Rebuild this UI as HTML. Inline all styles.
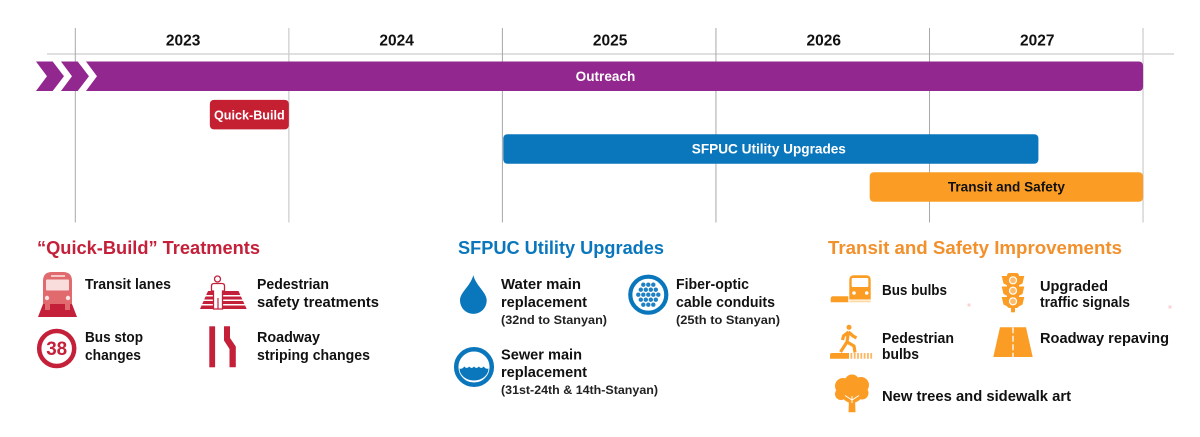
<!DOCTYPE html>
<html lang="en">
<head>
<meta charset="utf-8">
<title>Project timeline</title>
<style>
html,body{margin:0;padding:0;background:#fff;}
svg{display:block;}
text{font-family:"Liberation Sans",sans-serif;font-weight:bold;}
.lbl{font-size:14.5px;fill:#111;}
.sub{font-size:12px;fill:#222;}
.hd{font-size:18.5px;}
.year{font-size:15.5px;fill:#111;text-anchor:middle;}
.barlbl{font-size:13.6px;text-anchor:middle;fill:#fff;}
.barlbl.small{font-size:12.6px;}
.dark{fill:#111;}
</style>
</head>
<body>
<svg id="chart" xmlns="http://www.w3.org/2000/svg" width="1200" height="437" viewBox="0 0 1200 437">
  <rect width="1200" height="437" fill="#fff"/>
  <g id="axis"></g>
  <g id="bars"></g>

  <!-- Quick-Build legend -->
  <g>
    <text class="hd" x="37" y="254" fill="#c4203a" textLength="223" lengthAdjust="spacingAndGlyphs">“Quick-Build” Treatments</text>
    <g>
      <polygon points="43,304 72,304 77,317 38,317" fill="#c4203a"/>
      <path d="M43,304 V281 Q43,272 52,272 H63 Q72,272 72,281 V304Z" fill="#e06a6e"/>
      <rect x="46" y="279.500" width="23" height="11" rx="1" fill="#f9dcdc"/>
      <rect x="51" y="275" width="14" height="2" fill="#f6c9c9"/>
      <circle cx="47" cy="298" r="2.200" fill="#fbe3e3"/>
      <circle cx="68" cy="298" r="2.200" fill="#fbe3e3"/>
      <rect x="45" y="304" width="5" height="6" fill="#e06a6e"/>
      <rect x="65" y="304" width="5" height="6" fill="#e06a6e"/>
    </g>
    <text class="lbl" x="85" y="289" textLength="86" lengthAdjust="spacingAndGlyphs">Transit lanes</text>
    <g>
      <polygon points="208,291 238.500,291 246.700,309 200,309" fill="#c4203a"/>
      <g fill="#fff">
        <rect x="200" y="295" width="47" height="1.500"/>
        <rect x="200" y="299.500" width="47" height="1.500"/>
        <rect x="200" y="304" width="47" height="1.500"/>
      </g>
      <path d="M211.500,291 V286 Q211.500,283.500 214,283.500 H222 Q224.500,283.500 224.500,286 V291 H222.500 V309 H213.500 V291Z" fill="#fff" stroke="#c4203a" stroke-width="1.300"/>
      <line x1="218" y1="298" x2="218" y2="309" stroke="#c4203a" stroke-width="1.200"/>
      <circle cx="217.500" cy="279" r="3" fill="#fff" stroke="#c4203a" stroke-width="1.300"/>
    </g>
    <text class="lbl" x="257" y="289" textLength="72" lengthAdjust="spacingAndGlyphs">Pedestrian</text>
    <text class="lbl" x="257" y="307" textLength="122" lengthAdjust="spacingAndGlyphs">safety treatments</text>
    <g>
      <circle cx="56.700" cy="348.500" r="17.500" fill="#fff" stroke="#c4203a" stroke-width="4.500"/>
      <text x="46.200" y="355" font-size="19.500" fill="#c4203a" textLength="21" lengthAdjust="spacingAndGlyphs">38</text>
    </g>
    <text class="lbl" x="85" y="342" textLength="58" lengthAdjust="spacingAndGlyphs">Bus stop</text>
    <text class="lbl" x="85" y="360" textLength="56" lengthAdjust="spacingAndGlyphs">changes</text>
    <g fill="#c4203a">
      <rect x="209.300" y="326.300" width="5.800" height="41"/>
      <polygon points="224,326.300 230,326.300 230,338 235.800,346.500 235.800,367.300 229.500,367.300 229.500,349 224,340.500"/>
    </g>
    <text class="lbl" x="257" y="342" textLength="63" lengthAdjust="spacingAndGlyphs">Roadway</text>
    <text class="lbl" x="257" y="360" textLength="113" lengthAdjust="spacingAndGlyphs">striping changes</text>
  </g>

  <!-- SFPUC legend -->
  <g>
    <text class="hd" x="458" y="254" fill="#0a77bd" textLength="206" lengthAdjust="spacingAndGlyphs">SFPUC Utility Upgrades</text>
    <path d="M473.300,275.300 C470,287 460,292 460,300.500 A13.300,13.300 0 0 0 486.700,300.500 C486.700,292 476.600,287 473.300,275.300Z" fill="#0a77bd"/>
    <text class="lbl" x="501" y="289" textLength="80" lengthAdjust="spacingAndGlyphs">Water main</text>
    <text class="lbl" x="501" y="307" textLength="86" lengthAdjust="spacingAndGlyphs">replacement</text>
    <text class="sub" x="501" y="324" textLength="106" lengthAdjust="spacingAndGlyphs">(32nd to Stanyan)</text>
    <g>
      <circle cx="648.300" cy="294.700" r="18" fill="#fff" stroke="#0a77bd" stroke-width="4.200"/>
      <g fill="#2080c4">
        <circle cx="643.300" cy="284.700" r="2.200"/><circle cx="648.300" cy="284.700" r="2.200"/><circle cx="653.300" cy="284.700" r="2.200"/>
        <circle cx="640.800" cy="289.700" r="2.200"/><circle cx="645.800" cy="289.700" r="2.200"/><circle cx="650.800" cy="289.700" r="2.200"/><circle cx="655.800" cy="289.700" r="2.200"/>
        <circle cx="638.300" cy="294.700" r="2.200"/><circle cx="643.300" cy="294.700" r="2.200"/><circle cx="648.300" cy="294.700" r="2.200"/><circle cx="653.300" cy="294.700" r="2.200"/><circle cx="658.300" cy="294.700" r="2.200"/>
        <circle cx="640.800" cy="299.700" r="2.200"/><circle cx="645.800" cy="299.700" r="2.200"/><circle cx="650.800" cy="299.700" r="2.200"/><circle cx="655.800" cy="299.700" r="2.200"/>
        <circle cx="643.300" cy="304.700" r="2.200"/><circle cx="648.300" cy="304.700" r="2.200"/><circle cx="653.300" cy="304.700" r="2.200"/>
      </g>
    </g>
    <text class="lbl" x="676" y="289" textLength="73" lengthAdjust="spacingAndGlyphs">Fiber-optic</text>
    <text class="lbl" x="676" y="307" textLength="99" lengthAdjust="spacingAndGlyphs">cable conduits</text>
    <text class="sub" x="676" y="324" textLength="104" lengthAdjust="spacingAndGlyphs">(25th to Stanyan)</text>
    <g>
      <circle cx="474" cy="367" r="17.800" fill="#fff" stroke="#0a77bd" stroke-width="4.500"/>
      <path d="M459.500,368.500 Q462,369.500 464.300,366.500 Q466.800,369.500 469.200,366.500 Q471.600,369.500 474,366.500 Q476.400,369.500 478.800,366.500 Q481.200,369.500 483.700,366.500 Q486,369.500 488.500,368.500 A14.500,12 0 0 1 459.500,368.500Z" fill="#0a77bd"/>
    </g>
    <text class="lbl" x="501" y="359.500" textLength="81" lengthAdjust="spacingAndGlyphs">Sewer main</text>
    <text class="lbl" x="501" y="377" textLength="86" lengthAdjust="spacingAndGlyphs">replacement</text>
    <text class="sub" x="501" y="394" textLength="157" lengthAdjust="spacingAndGlyphs">(31st-24th &amp; 14th-Stanyan)</text>
  </g>

  <!-- Transit legend -->
  <g>
    <text class="hd" x="828" y="254" fill="#f2902c" textLength="294" lengthAdjust="spacingAndGlyphs">Transit and Safety Improvements</text>
    <g>
      <path d="M849.300,299.500 V280 Q849.300,275.300 854,275.300 H866 Q870.700,275.300 870.700,280 V299.500Z" fill="#fb9d24"/>
      <rect x="851.700" y="278" width="16.600" height="9" rx="1" fill="#fff"/>
      <circle cx="854" cy="293" r="1.800" fill="#fff"/>
      <circle cx="866.700" cy="293" r="1.800" fill="#fff"/>
      <rect x="849.300" y="300.500" width="21.400" height="1.800" fill="#fdd9a6"/>
      <path d="M833,296.300 H848.300 V302.300 H830.700 V299 Q830.700,296.300 833,296.300Z" fill="#fb9d24"/>
    </g>
    <text class="lbl" x="882" y="295" textLength="65" lengthAdjust="spacingAndGlyphs">Bus bulbs</text>
    <g fill="#fb9d24">
      <rect x="1007" y="273" width="12" height="35" rx="2.500"/>
      <rect x="1011" y="306" width="4" height="6.300"/>
      <polygon points="1001.700,276 1007.500,276 1007.500,285.500 1003.500,283.500"/>
      <polygon points="1001.700,286.500 1007.500,286.500 1007.500,296 1003.500,294"/>
      <polygon points="1001.700,297 1007.500,297 1007.500,306.500 1003.500,304.500"/>
      <polygon points="1024.300,276 1018.500,276 1018.500,285.500 1022.500,283.500"/>
      <polygon points="1024.300,286.500 1018.500,286.500 1018.500,296 1022.500,294"/>
      <polygon points="1024.300,297 1018.500,297 1018.500,306.500 1022.500,304.500"/>
      <circle cx="1013" cy="280.300" r="3.500" fill="#fdbb6c" stroke="#fff" stroke-width="1.200"/>
      <circle cx="1013" cy="290.700" r="3.500" fill="#fdbb6c" stroke="#fff" stroke-width="1.200"/>
      <circle cx="1013" cy="301.300" r="3.500" fill="#fdbb6c" stroke="#fff" stroke-width="1.200"/>
    </g>
    <text class="lbl" x="1040" y="291" textLength="68" lengthAdjust="spacingAndGlyphs">Upgraded</text>
    <text class="lbl" x="1040" y="307" textLength="90" lengthAdjust="spacingAndGlyphs">traffic signals</text>
    <rect x="967.500" y="303.500" width="3" height="3" fill="#f9d3d6"/>
    <rect x="1168.500" y="305.500" width="3" height="3" fill="#f9d3d6"/>
    <g>
      <circle cx="849" cy="327.300" r="2.500" fill="#fb9d24"/>
      <path d="M848.500,331.500 L847,342 L840.500,352 M847,342 L854,346 L855,352.500 M848.500,332 L853,336 L856.500,338 M848.500,332 L843.500,336 L842.500,340" fill="none" stroke="#fb9d24" stroke-width="3.200" stroke-linejoin="round"/>
      <path d="M832,353 H849 V358.700 H830 V355 Q830,353 832,353Z" fill="#fb9d24"/>
      <g fill="#fcb661">
        <rect x="850.500" y="353" width="1.800" height="5.700"/><rect x="853.800" y="353" width="1.800" height="5.700"/><rect x="857.100" y="353" width="1.800" height="5.700"/><rect x="860.400" y="353" width="1.800" height="5.700"/><rect x="863.700" y="353" width="1.800" height="5.700"/><rect x="867" y="353" width="1.800" height="5.700"/><rect x="870.300" y="353" width="1.800" height="5.700"/>
      </g>
    </g>
    <text class="lbl" x="882" y="343" textLength="72" lengthAdjust="spacingAndGlyphs">Pedestrian</text>
    <text class="lbl" x="882" y="359" textLength="37" lengthAdjust="spacingAndGlyphs">bulbs</text>
    <g>
      <polygon points="1000,327.300 1026,327.300 1032.700,357 993.300,357" fill="#fb9d24"/>
      <line x1="1013" y1="327.300" x2="1013" y2="357" stroke="#fff" stroke-width="1.300" stroke-dasharray="6 2.500"/>
    </g>
    <text class="lbl" x="1040" y="343" textLength="129" lengthAdjust="spacingAndGlyphs">Roadway repaving</text>
    <g fill="#fb9d24">
      <circle cx="843" cy="386" r="8"/><circle cx="852" cy="382" r="7.500"/><circle cx="861" cy="385" r="8"/>
      <circle cx="852" cy="392" r="11"/><circle cx="862" cy="393" r="6.500"/><circle cx="841" cy="394" r="6"/>
      <path d="M849,398 H855 L855.500,412.300 H848.500Z"/>
      <path d="M852,403 L852,396 M852,400 L845,395.500 M852,400 L859,395.500" stroke="#fff" stroke-width="1" fill="none"/>
    </g>
    <text class="lbl" x="882" y="401" textLength="189" lengthAdjust="spacingAndGlyphs">New trees and sidewalk art</text>
  </g>
</svg>
<script>
var tickYears = [2023, 2024, 2025, 2026, 2027, 2028];
var yearLabels = ['2023', '2024', '2025', '2026', '2027'];
var phaseNames = ['Outreach', 'Quick-Build', 'SFPUC Utility Upgrades', 'Transit and Safety'];
var phaseStarts = [2023.05, 2023.63, 2025.004, 2026.72];
var phaseEnds = [2028.0, 2024.0, 2027.51, 2028.0];
var phaseLanes = [0, 1.04, 1.97, 3];

var NS = 'http://www.w3.org/2000/svg';
var X0 = 75.3, PX_PER_YEAR = 213.55, Y0 = 61.5, LANE_STEP = 36.9, BAR_H = 29.5, R = 4.5;
var fills = ['#92278f', '#c42032', '#0a77bd', '#fb9d24'];
function x(year) { return X0 + (year - tickYears[0]) * PX_PER_YEAR; }
function y(lane) { return Y0 + lane * LANE_STEP; }
function make(tag, attrs) {
  var el = document.createElementNS(NS, tag);
  for (var k in attrs) el.setAttribute(k, attrs[k]);
  return el;
}
var axis = document.getElementById('axis');
var barsG = document.getElementById('bars');

var base = make('line', { x1: 47, x2: 1174, y1: 54, y2: 54, stroke: '#c0c0c0', 'stroke-width': 1 });


axis.appendChild(base);

tickYears.forEach(function (yr, i) {
  var odd = i === 1 || i === 5;
  var line = make('line', { x1: x(yr), x2: x(yr), y1: 28, y2: 222.5, stroke: odd ? '#cfcfcf' : '#a8a8a8', 'stroke-width': odd ? 1.3 : 1 });
  
  
  axis.appendChild(line);
});

yearLabels.forEach(function (label, i) {
  var t = make('text', { x: (x(tickYears[i]) + x(tickYears[i + 1])) / 2 + 1, y: 45.5, 'class': 'year' });
  t.textContent = label;
  
  
  axis.appendChild(t);
});

phaseNames.forEach(function (name, i) {
  var x0 = x(phaseStarts[i]), x1 = x(phaseEnds[i]), top = y(phaseLanes[i]), bot = top + BAR_H, mid = top + BAR_H / 2, d;
  if (i === 0) {
    d = 'M' + x0 + ',' + top + ' H' + (x1 - R) + ' Q' + x1 + ',' + top + ' ' + x1 + ',' + (top + R) +
        ' V' + (bot - R) + ' Q' + x1 + ',' + bot + ' ' + (x1 - R) + ',' + bot + ' H' + x0 +
        ' L' + (x0 + 11) + ',' + mid + 'Z';
    [-50, -25].forEach(function (off) {
      var a = x0 + off;
      var chev = make('polygon', {
        points: [a + ',' + top, (a + 16.7) + ',' + top, (a + 28) + ',' + mid, (a + 16.7) + ',' + bot, a + ',' + bot, (a + 11) + ',' + mid].join(' '),
        fill: fills[i]
      });
      
      
      barsG.appendChild(chev);
    });
  } else {
    d = 'M' + (x0 + R) + ',' + top + ' H' + (x1 - R) + ' Q' + x1 + ',' + top + ' ' + x1 + ',' + (top + R) +
        ' V' + (bot - R) + ' Q' + x1 + ',' + bot + ' ' + (x1 - R) + ',' + bot + ' H' + (x0 + R) +
        ' Q' + x0 + ',' + bot + ' ' + x0 + ',' + (bot - R) + ' V' + (top + R) + ' Q' + x0 + ',' + top + ' ' + (x0 + R) + ',' + top + 'Z';
  }
  var bar = make('path', { d: d, fill: fills[i] });
  
  
  barsG.appendChild(bar);

  var labelX = (x0 + x1) / 2 + (i === 0 ? -9 : i === 2 ? -2 : 0);
  var t = make('text', { x: labelX, y: mid + 4.7, 'class': 'barlbl' + (i === 3 ? ' dark' : '') + (i === 1 ? ' small' : '') });
  t.textContent = name;
  
  
  barsG.appendChild(t);
});
</script>
</body>
</html>
